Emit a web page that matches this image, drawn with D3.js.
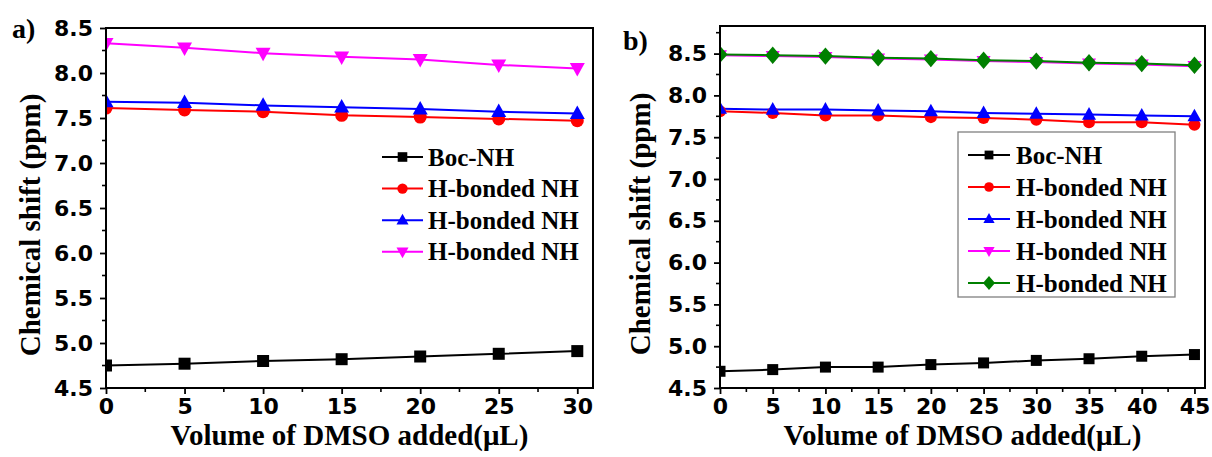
<!DOCTYPE html>
<html><head><meta charset="utf-8">
<script src="https://cdn.jsdelivr.net/npm/d3@7"></script>
<style>body{margin:0;background:#fff}svg{display:block}</style>
</head><body>
<svg id="chart" width="1212" height="457"></svg>
<script>
// ---------- data ----------
const volumeA = [0, 5, 10, 15, 20, 25, 30];
const bocA  = [4.75, 4.77, 4.80, 4.82, 4.85, 4.88, 4.91];
const hb1A  = [7.61, 7.59, 7.57, 7.53, 7.51, 7.49, 7.47];
const hb2A  = [7.68, 7.67, 7.64, 7.62, 7.60, 7.57, 7.55];
const hb3A  = [8.33, 8.28, 8.22, 8.18, 8.15, 8.09, 8.05];

const volumeB = [0, 5, 10, 15, 20, 25, 30, 35, 40, 45];
const bocB  = [4.70, 4.72, 4.75, 4.75, 4.78, 4.80, 4.83, 4.85, 4.88, 4.90];
const hb1B  = [7.81, 7.79, 7.76, 7.76, 7.74, 7.73, 7.71, 7.68, 7.68, 7.65];
const hb2B  = [7.84, 7.83, 7.83, 7.82, 7.81, 7.79, 7.78, 7.77, 7.76, 7.75];
const hb3B  = [8.48, 8.47, 8.46, 8.44, 8.43, 8.41, 8.40, 8.38, 8.37, 8.35];
const hb4B  = [8.49, 8.48, 8.47, 8.45, 8.44, 8.42, 8.41, 8.39, 8.38, 8.36];

const legendLabels = ["Boc-NH", "H-bonded NH", "H-bonded NH", "H-bonded NH", "H-bonded NH"];
const yTicks = [4.5, 5.0, 5.5, 6.0, 6.5, 7.0, 7.5, 8.0, 8.5];
const xTicksA = [0, 5, 10, 15, 20, 25, 30];
const xTicksB = [0, 5, 10, 15, 20, 25, 30, 35, 40, 45];
const xTitle = "Volume of DMSO added(\u03bcL)";
const yTitle = "Chemical shift (ppm)";

const colors = ["#000000", "#ff0000", "#0000ff", "#ff00ff", "#008000"];
const symbols = ["square", "circle", "triangle", "triangleDown", "diamond"];

const svg = d3.select("#chart");
const SERIF = "'Liberation Serif','Times New Roman',serif";
const SANS = "'DejaVu Sans',sans-serif";

function marker(g, type, cx, cy, s, color) {
  if (type === "square") {
    g.append("rect").attr("x", cx - s/2).attr("y", cy - s/2).attr("width", s).attr("height", s).attr("fill", color);
  } else if (type === "circle") {
    g.append("circle").attr("cx", cx).attr("cy", cy).attr("r", s/2).attr("fill", color);
  } else if (type === "triangle") {
    const h = s * 0.9;
    g.append("path").attr("d", `M${cx},${cy - h*0.6}L${cx + s/2},${cy + h*0.4}L${cx - s/2},${cy + h*0.4}Z`).attr("fill", color);
  } else if (type === "triangleDown") {
    const h = s * 0.9;
    g.append("path").attr("d", `M${cx},${cy + h*0.6}L${cx + s/2},${cy - h*0.4}L${cx - s/2},${cy - h*0.4}Z`).attr("fill", color);
  } else if (type === "diamond") {
    g.append("path").attr("d", `M${cx},${cy - s*0.58}L${cx + s/2},${cy}L${cx},${cy + s*0.58}L${cx - s/2},${cy}Z`).attr("fill", color);
  }
}

function panel(opt) {
  const {id, left, right, top, bottom, xDomain, yDomain, xs, series, xTicks, legend, label, labelPos, yTitleX} = opt;
  const x = d3.scaleLinear().domain(xDomain).range([left, right]);
  const y = d3.scaleLinear().domain(yDomain).range([bottom, top]);
  const g = svg.append("g");

  const clip = g.append("clipPath").attr("id", "clip" + id);
  clip.append("rect").attr("x", left).attr("y", top).attr("width", right - left).attr("height", bottom - top);

  // minor ticks
  const yMinor = d3.range(yDomain[0] + 0.25, yDomain[1], 0.5);
  const xMinor = d3.range(2.5, xDomain[1], 5);
  const ax = g.append("g").attr("stroke", "#000").attr("stroke-width", 1.6);
  yMinor.forEach(v => ax.append("line").attr("x1", left - 4).attr("x2", left).attr("y1", y(v)).attr("y2", y(v)));
  xMinor.forEach(v => ax.append("line").attr("x1", x(v)).attr("x2", x(v)).attr("y1", bottom).attr("y2", bottom + 4));

  // major axes
  const yAxis = d3.axisLeft(y).tickValues(yTicks).tickFormat(d3.format(".1f")).tickSize(6).tickPadding(7);
  const gy = g.append("g").attr("transform", `translate(${left},0)`).call(yAxis);
  const xAxis = d3.axisBottom(x).tickValues(xTicks).tickFormat(d3.format("d")).tickSize(6).tickPadding(4);
  const gx = g.append("g").attr("transform", `translate(0,${bottom})`).call(xAxis);
  [gy, gx].forEach(a => {
    a.select(".domain").remove();
    a.selectAll(".tick line").attr("stroke", "#000").attr("stroke-width", 1.8);
    a.selectAll(".tick text").attr("fill", "#000").style("font-family", SANS).style("font-weight", "bold").style("font-size", "22px");
  });

  // series
  const plot = g.append("g").attr("clip-path", `url(#clip${id})`);
  series.forEach(s => {
    const line = d3.line().x((d, i) => x(xs[i])).y(d => y(d));
    plot.append("path").datum(s.values).attr("d", line).attr("fill", "none").attr("stroke", s.color).attr("stroke-width", 2);
  });
  series.forEach(s => {
    s.values.forEach((v, i) => marker(plot, s.symbol, x(xs[i]), y(v), s.size, s.color));
  });

  // frame
  g.append("rect").attr("x", left).attr("y", top).attr("width", right - left).attr("height", bottom - top)
    .attr("fill", "none").attr("stroke", "#000").attr("stroke-width", 2);

  // titles
  g.append("text").attr("x", (left + right) / 2).attr("y", 445).attr("text-anchor", "middle")
    .style("font-family", SERIF).style("font-weight", "bold").style("font-size", "29px").text(xTitle);
  g.append("text").attr("transform", `translate(${yTitleX},${(top + bottom) / 2 + 17}) rotate(-90)`).attr("text-anchor", "middle")
    .style("font-family", SERIF).style("font-weight", "bold").style("font-size", "29px").text(yTitle);
  g.append("text").attr("x", labelPos[0]).attr("y", labelPos[1])
    .style("font-family", SERIF).style("font-weight", "bold").style("font-size", "28px").text(label);

  // legend
  const lg = g.append("g");
  if (legend.box) {
    lg.append("rect").attr("x", legend.box[0]).attr("y", legend.box[1]).attr("width", legend.box[2]).attr("height", legend.box[3])
      .attr("fill", "#fff").attr("stroke", "#808080").attr("stroke-width", 1.3);
  }
  series.forEach((s, i) => {
    const cy = legend.y0 + i * legend.dy;
    lg.append("line").attr("x1", legend.x0).attr("x2", legend.x1).attr("y1", cy).attr("y2", cy)
      .attr("stroke", s.color).attr("stroke-width", 2);
    marker(lg, s.symbol, (legend.x0 + legend.x1) / 2, cy, s.size * 0.8, s.color);
    lg.append("text").attr("x", legend.tx).attr("y", cy + 8.5)
      .style("font-family", SERIF).style("font-weight", "bold").style("font-size", "25px").text(legendLabels[i]);
  });
}

panel({
  id: "a", left: 106, right: 593, top: 28, bottom: 388,
  xDomain: [0, 31], yDomain: [4.5, 8.5], xs: volumeA, xTicks: xTicksA,
  series: [
    {values: bocA, color: colors[0], symbol: symbols[0], size: 12},
    {values: hb1A, color: colors[1], symbol: symbols[1], size: 13},
    {values: hb2A, color: colors[2], symbol: symbols[2], size: 15},
    {values: hb3A, color: colors[3], symbol: symbols[3], size: 15}
  ],
  legend: {x0: 382, x1: 423, tx: 428, y0: 157, dy: 31.6},
  label: "a)", labelPos: [12, 38], yTitleX: 40
});

panel({
  id: "b", left: 720, right: 1205, top: 26, bottom: 388,
  xDomain: [0, 46], yDomain: [4.5, 8.83], xs: volumeB, xTicks: xTicksB,
  series: [
    {values: bocB, color: colors[0], symbol: symbols[0], size: 11},
    {values: hb1B, color: colors[1], symbol: symbols[1], size: 12},
    {values: hb2B, color: colors[2], symbol: symbols[2], size: 14},
    {values: hb3B, color: colors[3], symbol: symbols[3], size: 14},
    {values: hb4B, color: colors[4], symbol: symbols[4], size: 15}
  ],
  legend: {x0: 968, x1: 1010, tx: 1016, y0: 155, dy: 32, box: [958, 132, 217, 165]},
  label: "b)", labelPos: [623, 50], yTitleX: 650
});
</script>
</body></html>
